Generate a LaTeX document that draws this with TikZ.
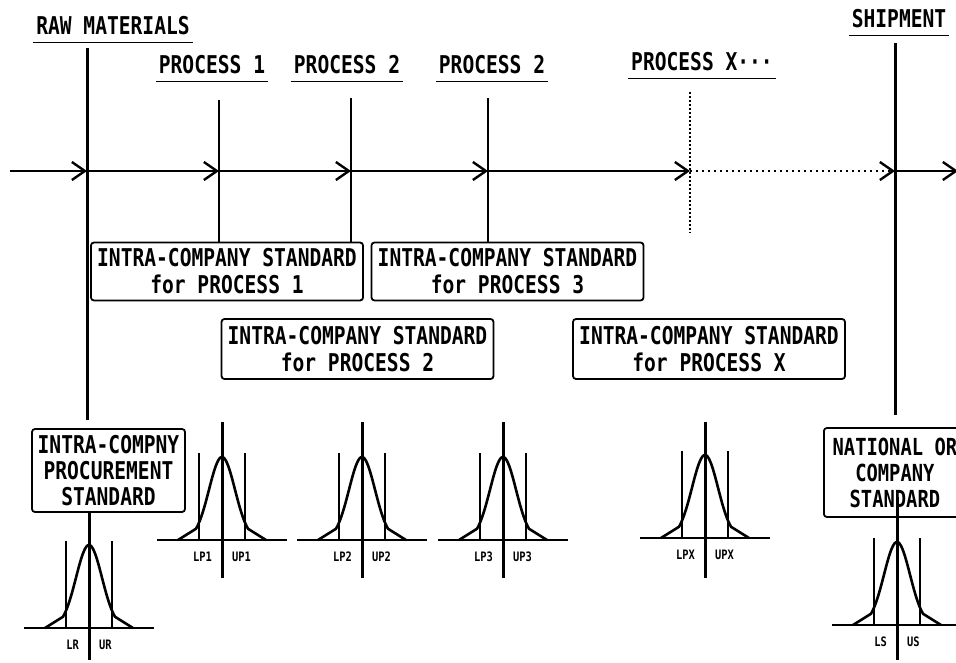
\documentclass[tikz,border=0pt]{standalone}
\usepackage{fontspec}
\newfontfamily\dotfont[FakeStretch=0.8]{DejaVu Sans Mono}
\usetikzlibrary{arrows.meta,positioning}
\tikzset{
  flow/.style={line width=1.6pt,-{Straight Barb[length=13pt,width=18pt,line width=2.4pt]}},
  stage/.style={font=\dotfont\bfseries\fontsize{24.5}{27}\selectfont,inner xsep=3pt,inner ysep=7pt},
  stdbox/.style={draw,line width=1.8pt,rounded corners=3pt,font=\dotfont\bfseries\fontsize{24.5}{27}\selectfont,align=center,inner xsep=3pt,inner ysep=2pt,minimum width=272pt,minimum height=58pt},
  procline/.style={line width=2.2pt},
  mainpost/.style={line width=3pt},
  limit/.style={line width=2.8pt},
  axisline/.style={line width=1.6pt},
  bell/.style={line width=2.6pt,line join=round},
  limlabel/.style={font=\dotfont\bfseries\fontsize{13}{14}\selectfont,inner sep=0pt},
}
\newcommand{\bellcurve}[5]{%
  \begin{scope}[shift={(#2,#3)}]
    \draw[axisline] (-65,0) -- (65,0);
    \draw[limit] (-23,0) -- (-23,-87);
    \draw[limit] (23,0) -- (23,-87);
    \draw[bell] (-44,0) -- plot[domain=-26:26,samples=41] (\x,{-83*exp(-((\x)*(\x))/338)}) -- (44,0);
    \node[limlabel,anchor=east] (#1l) at (-10,17) {#4};
    \node[limlabel,anchor=west] (#1u) at (10,17) {#5};
  \end{scope}}

\begin{document}
\begin{tikzpicture}[x=1pt,y=-1pt]
  \useasboundingbox (0,0) rectangle (956,663);
  \clip (0,0) rectangle (956,663);

  \node[stage] (raw) at (113,26) {RAW MATERIALS};
  \node[stage] (proc1) at (212,65) {PROCESS 1};
  \node[stage] (proc2) at (347,65) {PROCESS 2};
  \node[stage] (proc3) at (492,65) {PROCESS 2};
  \node[stage] (procx) at (702,62) {PROCESS X···};
  \node[stage] (ship) at (899,19) {SHIPMENT};
  \foreach \t in {raw,proc1,proc2,proc3,procx,ship}
    \draw[line width=1.5pt] (\t.south west) -- (\t.south east);

  \coordinate (in) at (10,171);
  \coordinate (rawtop) at (87,48);
  \coordinate (p1top) at (219,100);
  \coordinate (p2top) at (351,98);
  \coordinate (p3top) at (488,98);
  \coordinate (pxtop) at (690,92);
  \coordinate (pxbot) at (690,233);
  \coordinate (shiptop) at (895,43);
  \coordinate (out) at (958,171);

  \node[stdbox] (box1) at (227,271.5) {INTRA-COMPANY STANDARD\\for PROCESS 1};
  \node[stdbox] (box3) at (507.5,271.5) {INTRA-COMPANY STANDARD\\for PROCESS 3};
  \node[stdbox,minimum height=60pt] (box2) at (357.5,349) {INTRA-COMPANY STANDARD\\for PROCESS 2};
  \node[stdbox,minimum height=60pt] (boxx) at (709,349) {INTRA-COMPANY STANDARD\\for PROCESS X};
  \node[stdbox,minimum width=153pt,minimum height=83pt,font=\dotfont\bfseries\fontsize{24.5}{26}\selectfont] (rawbox) at (108.5,470.5) {INTRA-COMPNY\\PROCUREMENT\\STANDARD};
  \node[stdbox,minimum width=142pt,minimum height=89pt,inner xsep=0pt,anchor=west,font=\dotfont\bfseries\fontsize{23.5}{26}\selectfont] (shipbox) at (823,472.5) {NATIONAL OR\\COMPANY\\STANDARD};

  \draw[mainpost,shorten >=8pt] (rawtop) -- (rawtop |- rawbox.north);
  \draw[procline] (p1top) -- (p1top |- box1.north);
  \draw[procline] (p2top) -- (p2top |- box1.north);
  \draw[procline] (p3top) -- (p3top |- box3.north);
  \draw[line width=2.6pt,dash pattern=on 2pt off 2pt] (pxtop) -- (pxbot);
  \draw[mainpost,shorten >=12pt] (shiptop) -- (shiptop |- shipbox.north);

  \coordinate (rawc) at (rawtop |- 0,171);
  \coordinate (p1c) at (p1top |- 0,171);
  \coordinate (p2c) at (p2top |- 0,171);
  \coordinate (p3c) at (p3top |- 0,171);
  \coordinate (pxc) at (pxtop |- 0,171);
  \coordinate (shipc) at (shiptop |- 0,171);
  \draw[flow] (in) -- (rawc);
  \draw[flow] (rawc) -- (p1c);
  \draw[flow] (p1c) -- (p2c);
  \draw[flow] (p2c) -- (p3c);
  \draw[flow] (p3c) -- (pxc);
  \draw[flow,dash pattern=on 2pt off 4pt] (pxc) -- (shipc);
  \draw[flow] (shipc) -- (out);

  \coordinate (rawbot) at (89,660);
  \coordinate (shipmid) at (897,497);
  \coordinate (shipbot) at (897,660);
  \draw[mainpost] (rawbot |- rawbox.south) -- (rawbot);
  \draw[mainpost] (shipmid) -- (shipbot);
  \foreach \c in {222,362,503,705}
    \draw[mainpost] (\c,422) -- (\c,578);

  \bellcurve{rawb}{89}{628}{LR}{UR}
  \bellcurve{b1}{222}{540}{LP1}{UP1}
  \bellcurve{b2}{362}{540}{LP2}{UP2}
  \bellcurve{b3}{503}{540}{LP3}{UP3}
  \bellcurve{bx}{705}{538}{LPX}{UPX}
  \bellcurve{shipb}{897}{625}{LS}{US}
\end{tikzpicture}
\end{document}
